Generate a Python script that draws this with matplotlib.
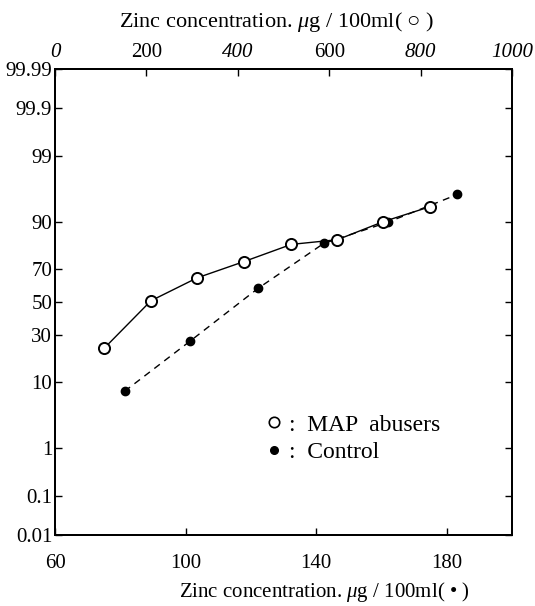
import numpy as np
import matplotlib
matplotlib.use('Agg')
import matplotlib.pyplot as plt
from matplotlib.ticker import FixedLocator, NullLocator
from matplotlib.lines import Line2D
from statistics import NormalDist

# ---- data ----
map_zinc = [108, 210, 311, 414, 517, 618, 718, 821]          # top axis, ug/100ml
map_cum = [23.1, 50.8, 65.0, 74.1, 82.1, 84.0, 90.0, 93.6]   # cumulative %
ctrl_zinc = [81.3, 101.3, 122.2, 142.3, 162.1, 183.3]        # bottom axis, ug/100ml
ctrl_cum = [7.7, 26.5, 58.6, 82.5, 89.9, 95.7]               # cumulative %

prob_ticks = [0.01, 0.1, 1, 10, 30, 50, 70, 90, 99, 99.9, 99.99]
prob_labels = ['0.01', '0.1', '1', '10', '30', '50', '70', '90', '99', '99.9', '99.99']
top_ticks = [0, 200, 400, 600, 800, 1000]
bottom_ticks = [60, 100, 140, 180]
legend_labels = [':  MAP  abusers', ':  Control']

FONT = 'Liberation Serif'
plt.rcParams['font.family'] = [FONT, 'DejaVu Sans']
plt.rcParams['mathtext.fontset'] = 'custom'
plt.rcParams['mathtext.rm'] = FONT
plt.rcParams['mathtext.it'] = FONT + ':italic'

_nd = NormalDist()
_ppf = np.vectorize(lambda v: _nd.inv_cdf(v), otypes=[float])
_cdf = np.vectorize(lambda v: _nd.cdf(v), otypes=[float])


def fwd(p):
    p = np.clip(np.asarray(p, float), 1e-7, 100 - 1e-5)
    return _ppf(p / 100.0)


def inv(z):
    return 100.0 * _cdf(np.asarray(z, float))


W, H = 535, 606
fig = plt.figure(figsize=(W / 100, H / 100), dpi=100)
L, R, T, B = 55, 512, 69, 535
ax = fig.add_axes([L / W, 1 - B / H, (R - L) / W, (B - T) / H])
ax.set_yscale('function', functions=(fwd, inv))
ax.set_ylim(0.01, 99.99)
ax.set_xlim(60, 200)

ax2 = ax.twiny()
ax2.set_xlim(0, 1000)

# control (bottom axis)
ax.plot(ctrl_zinc, ctrl_cum, color='black', lw=1.0, ls=(0, (5, 4)),
        marker='o', ms=6, mfc='black', mec='black', zorder=3)
# MAP abusers (top axis)
ax2.plot(map_zinc, map_cum, color='black', lw=1.0, ls='-',
         marker='o', ms=8, mfc='white', mec='black', mew=1.4, zorder=4)

for a in (ax, ax2):
    for s in a.spines.values():
        s.set_linewidth(1.4)

ax.yaxis.set_major_locator(FixedLocator(prob_ticks))
ax.yaxis.set_minor_locator(NullLocator())
ax.set_yticklabels(prob_labels)
ax.set_xticks(bottom_ticks)
ax.xaxis.set_minor_locator(NullLocator())
ax.tick_params(axis='y', which='both', direction='in', length=5, width=1,
               left=True, right=True, labelsize=15, pad=2)
ax.tick_params(axis='x', direction='in', length=5, width=1, top=False,
               labelsize=15, pad=14)

ax2.set_xticks(top_ticks)
ax2.xaxis.set_minor_locator(NullLocator())
ax2.tick_params(axis='x', direction='in', length=5, width=1, labelsize=15, pad=5)
ax2.set_xticklabels([str(t) for t in top_ticks])
for lbl, t in zip(ax2.get_xticklabels(), top_ticks):
    if t in (0, 400, 800, 1000):
        lbl.set_style('italic')

fig.text(277 / W, 1 - 22 / H, r'Zinc concentration. $\mu$g / 100ml( ○ )',
         ha='center', va='center', fontsize=16)
fig.text(324 / W, 1 - 592 / H, r'Zinc concentration. $\mu$g / 100ml( • )',
         ha='center', va='center', fontsize=15)

# legend: marker-only keys
handles = [
    Line2D([], [], ls='none', marker='o', ms=7.5, mfc='white', mec='black', mew=1.2),
    Line2D([], [], ls='none', marker='o', ms=5.5, mfc='black', mec='black'),
]
fig.legend(handles, legend_labels, loc='upper left',
           bbox_to_anchor=(265 / W, 1 - 414 / H), bbox_transform=fig.transFigure,
           frameon=False, fontsize=17, handlelength=0.8, handletextpad=0.2,
           labelspacing=0.25, borderpad=0, borderaxespad=0)

fig.savefig('out.png', dpi=100)
